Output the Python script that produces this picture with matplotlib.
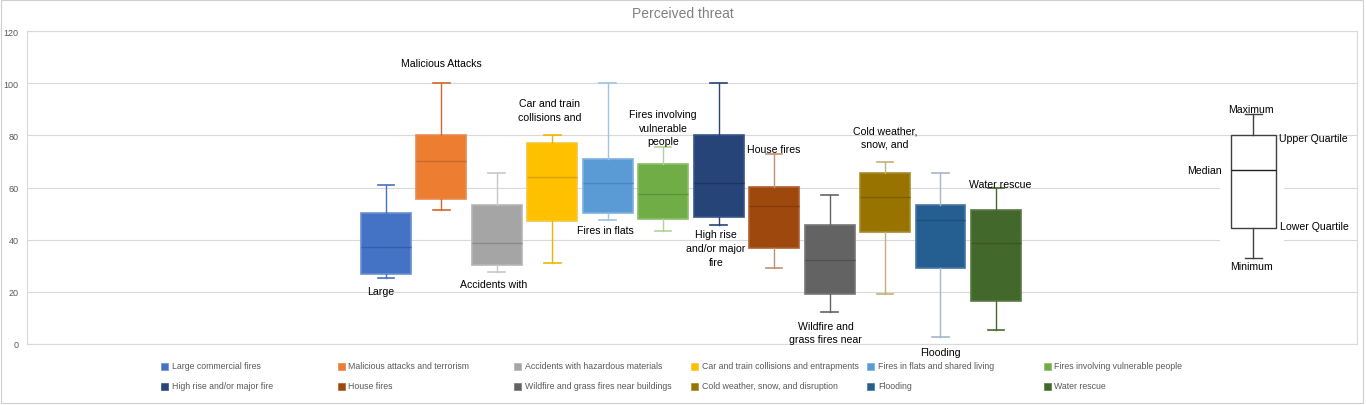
import matplotlib.pyplot as plt
from matplotlib.patches import Rectangle

plt.rcParams['font.family'] = ['Liberation Sans', 'DejaVu Sans']

# series data
names = ["Large commercial fires", "Malicious attacks and terrorism",
         "Accidents with hazardous materials", "Car and train collisions and entrapments",
         "Fires in flats and shared living", "Fires involving vulnerable people",
         "High rise and/or major fire", "House fires",
         "Wildfire and grass fires near buildings", "Cold weather, snow, and disruption",
         "Flooding", "Water rescue"]
short_labels = ["Large", "Malicious Attacks", "Accidents with", "Car and train\ncollisions and",
                "Fires in flats", "Fires involving\nvulnerable\npeople", "High rise\nand/or major\nfire",
                "House fires", "Wildfire and\ngrass fires near", "Cold weather,\nsnow, and",
                "Flooding", "Water rescue"]
minimum = [25.2, 51.3, 27.5, 30.9, 47.6, 43.4, 45.5, 29.3, 12.1, 19.1, 2.7, 5.2]
lower_q = [27.0, 55.5, 30.4, 47.1, 50.4, 47.8, 48.8, 36.7, 19.3, 42.8, 29.0, 16.6]
median = [37.1, 70.1, 38.9, 64.2, 61.6, 57.4, 61.6, 52.8, 32.1, 56.3, 47.4, 38.6]
upper_q = [50.1, 80.0, 53.2, 77.1, 70.8, 68.9, 80.0, 60.1, 45.8, 65.5, 53.1, 51.5]
maximum = [60.9, 100.0, 65.7, 80.0, 100.0, 75.6, 100.0, 72.9, 57.3, 69.9, 65.7, 59.7]

# explanatory key box
key_stats = {"min": 32.9, "q1": 44.5, "med": 66.6, "q3": 80.0, "max": 88.1}

fills = ["#4472C4", "#ED7D31", "#A5A5A5", "#FFC000", "#5B9BD5", "#70AD47",
         "#264478", "#9E480E", "#636363", "#997300", "#255E91", "#43682B"]
edges = ["#6A8FD0", "#E98A4E", "#B5B5B5", "#F5C63A", "#7DB0DE", "#8BBE6A",
         "#37558C", "#B06030", "#777777", "#A88A30", "#4676A3", "#5A7A44"]
medians = ["#3560A8", "#C96A28", "#8A8A8A", "#D9A400", "#4A86C0", "#5E9438",
           "#1D3560", "#853C0B", "#505050", "#7E5F00", "#1E4F7A", "#385724"]
whisk = ["#4472C4", "#D06A2A", "#C8C8C8", "#F0B400", "#A0C4E6", "#B0D398",
         "#264478", "#C09070", "#636363", "#C8AE78", "#A2B7CC", "#43682B"]

fig = plt.figure(figsize=(13.66, 4.06), dpi=100)
ax = fig.add_axes([27 / 1366, 1 - 345 / 406, 1330 / 1366, 313 / 406])

positions = list(range(len(names)))
for i in positions:
    st = [{"whislo": minimum[i], "q1": lower_q[i], "med": median[i],
           "q3": upper_q[i], "whishi": maximum[i], "fliers": []}]
    ax.bxp(st, positions=[i], widths=0.9, patch_artist=True, showfliers=False,
           boxprops=dict(facecolor=fills[i], edgecolor=edges[i], linewidth=1.2),
           medianprops=dict(color=medians[i], linewidth=1.0),
           whiskerprops=dict(color=whisk[i], linewidth=1.0),
           capprops=dict(color=whisk[i], linewidth=1.2), capwidths=0.3, zorder=3)

key_x = 15.64
ax.add_patch(Rectangle((key_x - 0.6, 34), 1.15, 30, facecolor="white", edgecolor="none", zorder=2))
ax.bxp([{"whislo": key_stats["min"], "q1": key_stats["q1"], "med": key_stats["med"],
         "q3": key_stats["q3"], "whishi": key_stats["max"], "fliers": []}],
       positions=[key_x], widths=0.81, patch_artist=True, showfliers=False,
       boxprops=dict(facecolor="white", edgecolor="#404040", linewidth=1.0),
       medianprops=dict(color="#202020", linewidth=1.0),
       whiskerprops=dict(color="#404040", linewidth=1.0),
       capprops=dict(color="#404040", linewidth=1.0), capwidths=0.3, zorder=3)

# box labels (text positions are layout only)
label_xy = [(-0.1, 20.3), (0.0, 107.8), (-0.05, 23.0), (-0.05, 89.8), (-0.05, 43.7),
            (0.0, 82.9), (-0.05, 36.8), (0.0, 74.8), (-0.07, 4.4), (0.0, 79.4),
            (0.0, -3.2), (0.07, 61.4)]
for i, txt in enumerate(short_labels):
    dx, yy = label_xy[i]
    ax.text(i + dx, yy, txt, ha="center", va="center", fontsize=7.6,
            color="#000000", linespacing=1.45, zorder=5, clip_on=False)

kfs = 7.6
ax.text(key_x - 0.05, 90.2, "Maximum", ha="center", va="center", fontsize=kfs, zorder=5)
ax.text(key_x + 0.46, 78.8, "Upper Quartile", ha="left", va="center", fontsize=kfs, zorder=5)
ax.text(key_x - 0.56, 66.6, "Median", ha="right", va="center", fontsize=kfs, zorder=5)
ax.text(key_x + 0.48, 45.2, "Lower Quartile", ha="left", va="center", fontsize=kfs, zorder=5)
ax.text(key_x - 0.04, 29.8, "Minimum", ha="center", va="center", fontsize=kfs, zorder=5)

ax.set_xlim(-6.47, 17.51)
ax.set_ylim(0, 120)
ax.set_yticks(range(0, 121, 20))
ax.set_xticks([])
ax.grid(axis="y", color="#D9D9D9", linewidth=0.8, zorder=0)
ax.set_axisbelow(True)
ax.tick_params(axis="y", length=0, labelsize=6.5, labelcolor="#595959", pad=6)
for s in ax.spines.values():
    s.set_color("#D9D9D9")
    s.set_linewidth(0.8)

fig.text(683 / 1366, 1 - 14 / 406, "Perceived threat", ha="center", va="center",
         fontsize=10, color="#808080")

# legend drawn as a 6 x 2 grid
for i, nm in enumerate(names):
    col, row = i % 6, i // 6
    px = 161 + 176.5 * col
    py = 367 + 20 * row
    fig.patches.append(Rectangle((px / 1366, 1 - (py + 3.5) / 406), 7 / 1366, 7 / 406,
                                 transform=fig.transFigure, facecolor=fills[i],
                                 edgecolor=edges[i], linewidth=0.5))
    fig.text((px + 11) / 1366, 1 - py / 406, nm, ha="left", va="center",
             fontsize=6.3, color="#595959")

fig.patches.append(Rectangle((0.001, 0.004), 0.997, 0.994, transform=fig.transFigure,
                             fill=False, edgecolor="#D0D0D0", linewidth=0.8))

fig.savefig("out.png", dpi=100)
